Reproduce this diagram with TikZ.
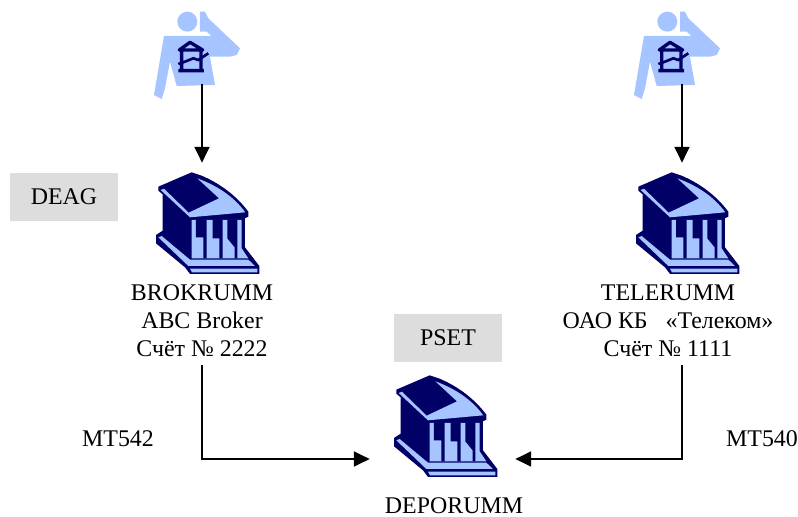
\documentclass[tikz,border=0pt]{standalone}
\usepackage{fontspec}
\setmainfont{Liberation Serif}
\usetikzlibrary{positioning,arrows.meta}
\definecolor{navy}{HTML}{000066}
\definecolor{sky}{HTML}{A6C4FF}
\definecolor{tag}{HTML}{DDDDDD}
\tikzset{
  bankbox/.style={minimum width=2.9cm,minimum height=2.4cm,inner sep=0pt},
  userbox/.style={minimum width=2cm,minimum height=1.58cm,inner sep=0pt},
  tagbox/.style={fill=tag,minimum width=2.16cm,minimum height=0.96cm,inner sep=0pt},
  label/.style={align=center,inner sep=0pt,font=\fontsize{13.6}{15.9}\selectfont},
  link/.style={line width=1.1pt,-{Triangle[length=9pt,width=8.5pt]}},
  pics/bank/.style={code={
    \begin{scope}[shift={(-62,63)},scale=0.3333,yscale=-1]
    \fill [navy] (155,37) -- (185,47) .. controls (250,75) and (295,115) .. (325,155) -- (325,170) -- (315,175) -- (315,262) -- (358,318) -- (358,342) -- (150,342) -- (135,322) -- (48,250) -- (48,225) -- (68,212) -- (68,103) -- (55,92) -- (55,80) -- cycle;
    \fill [sky] (62,90) -- (72,86) -- (146,158) -- (237,115) -- (172,55) .. controls (240,80) and (285,115) .. (316,157) -- (150,172) -- cycle;
    \fill [sky] (155,180) -- (305,180) -- (305,265) -- (325,295) -- (155,295) -- cycle;
    \fill [navy] (168,178) -- (200,178) -- (200,295) -- (190,295) -- (190,232) -- (168,232) -- cycle;
    \fill [navy] (218,178) -- (248,178) -- (248,295) -- (238,295) -- (238,235) -- (218,235) -- cycle;
    \fill [navy] (262,178) -- (292,178) -- (292,295) -- (284,295) -- (284,262) -- (262,235) -- cycle;
    \fill [sky] (55,232) -- (65,228) -- (150,299) -- (325,299) -- (345,318) -- (145,318) -- cycle;
    \fill [sky] (150,326) -- (352,326) -- (352,337) -- (156,337) -- cycle;
    \end{scope}
  }},
  pics/user/.style={code={
    \begin{scope}[shift={(-62,44.5)},scale=0.3333,yscale=-1]
    \fill [sky] (142,65) circle (30);
    \fill [sky] (180,35) -- (195,35) -- (205,55) -- (300,145) -- (290,165) -- (270,170) -- (210,170) -- (225,255) -- (110,258) -- (90,185) -- (75,265) -- (65,297) -- (42,285) -- (72,108) -- (215,108) -- (200,95) -- (180,95) -- cycle;
    \draw [navy,line width=1.9pt,line join=round] (118,150) -- (150,127) -- (188,150) -- cycle (125,150) -- (125,212) (183,150) -- (183,212) (115,212) -- (192,212);
    \draw [navy,line width=1.5pt] (115,192) -- (135,185) -- (160,175) -- (175,180) -- (205,160);
    \end{scope}
  }}
}
\begin{document}
\begin{tikzpicture}[x=0.02cm,y=0.02cm]
\useasboundingbox (0,0) rectangle (798,-517);
% icons
\node [userbox] (userA) at (202,-44.5) {};
\node [userbox] (userB) at (682,-44.5) {};
\node [bankbox] (bankA) at (202,-223) {};
\node [bankbox] (bankB) at (682,-223) {};
\node [bankbox,minimum height=3.4cm] (bankC) at (442.5,-459) {};
\pic at (userA) {user};
\pic at (userB) {user};
\pic at (bankA) {bank};
\pic at (bankB) {bank};
\pic at (440,-426) {bank};
% labels
\node [tagbox,label] (tagA) at (64,-197) {DEAG};
\node [tagbox,label] (tagC) at (448,-338) {PSET};
\node [label] (textA) at (202,-321) {BROKRUMM\\ABC Broker\\Счёт № 2222};
\node [label] (textB) at (668,-321) {TELERUMM\\ОАО КБ \ \ «Телеком»\\Счёт № 1111};
\node [label] (textC) at (454,-506) {DEPORUMM};
\node [label] (msgA) at (118,-439) {MT542};
\node [label] (msgB) at (762,-439) {MT540};
\coordinate (startA) at (202,-365);
\coordinate (startB) at (682,-365);
% links
\draw [link] (userA) -- (bankA);
\draw [link] (userB) -- (bankB);
\draw [link] (startA) |- (bankC.west);
\draw [link] (startB) |- (bankC.east);
\end{tikzpicture}
\end{document}
